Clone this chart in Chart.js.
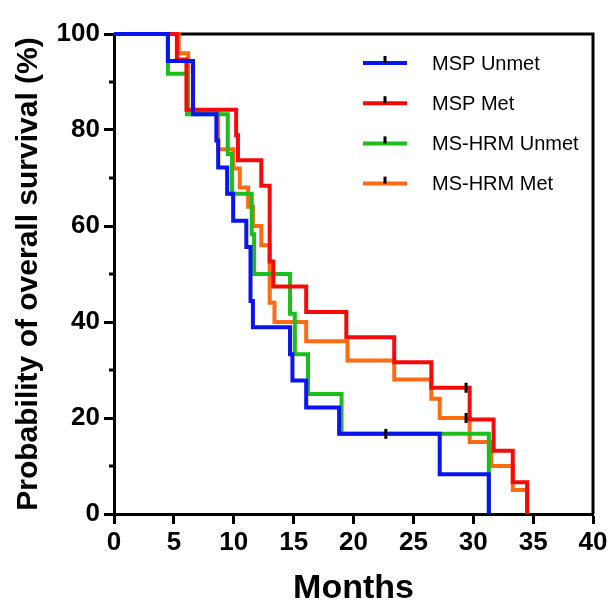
<!DOCTYPE html>
<html>
<head>
<meta charset="utf-8">
<title>Overall survival</title>
<script src="https://cdn.jsdelivr.net/npm/chart.js@4/dist/chart.umd.min.js"></script>
<style>
  body { margin: 0; background: #fff; }
  #km-chart { display: block; }
</style>
</head>
<body>
<canvas id="km-chart" width="614" height="611"></canvas>
<script>
// Survival curves (months, % surviving after each step)
const mspUnmetTimes = [0, 4.5, 6.6, 8.55, 8.7, 9.45, 9.95, 11.05, 11.4, 11.6, 14.7, 14.9, 16.05, 18.8, 27.2, 31.3];
const mspUnmetSurv  = [100, 94.4, 83.3, 77.8, 72.2, 66.7, 61.1, 55.6, 44.4, 38.9, 33.3, 27.8, 22.2, 16.7, 8.3, 0];

const mspMetTimes = [0, 5.25, 6.05, 10.2, 10.35, 12.3, 13.0, 13.3, 16.05, 19.4, 23.4, 26.5, 29.7, 31.7, 33.3, 34.5];
const mspMetSurv  = [100, 94.7, 84.2, 78.9, 73.7, 68.4, 52.6, 47.4, 42.1, 36.8, 31.6, 26.3, 19.7, 13.2, 6.6, 0];

const hrmUnmetTimes = [0, 4.5, 6.1, 9.5, 9.85, 11.5, 11.7, 14.7, 15.1, 16.2, 19.0, 31.3];
const hrmUnmetSurv  = [100, 91.7, 83.3, 75, 66.7, 58.3, 50, 41.7, 33.3, 25, 16.7, 0];

const hrmMetTimes = [0, 5.4, 6.2, 8.7, 9.95, 10.5, 11.2, 11.6, 12.3, 13.0, 13.4, 16.05, 19.5, 23.4, 26.5, 27.2, 29.7, 31.5, 33.3, 34.5];
const hrmMetSurv  = [100, 96, 84, 76, 72, 68, 64, 60, 56, 44, 40, 36, 32, 28, 24, 20, 15, 10, 5, 0];

// Censored observations
const censorTimes = [22.7, 29.4, 29.4];
const censorSurv  = [16.7, 26.3, 20];

const seriesLabels = ['MSP Unmet', 'MSP Met', 'MS-HRM Unmet', 'MS-HRM Met'];
const seriesColors = ['#0a14f0', '#f50a0a', '#1cbe1c', '#ff6a12'];

const xTicks = [0, 5, 10, 15, 20, 25, 30, 35, 40];
const yTicks = [0, 20, 40, 60, 80, 100];
const yMinorTicks = [10, 30, 50, 70, 90];

const FONT = "'Liberation Sans', Arial, Helvetica, sans-serif";

/**
 * Zip two arrays into {x, y} points
 */
function toPoints(xs, ys) {
  return xs.map((x, i) => ({ x: x, y: ys[i] }));
}

/**
 * Build one step-line dataset
 */
function stepDataset(idx, xs, ys) {
  return {
    label: seriesLabels[idx],
    data: toPoints(xs, ys),
    borderColor: seriesColors[idx],
    backgroundColor: seriesColors[idx],
    borderWidth: 4,
    stepped: 'before',
    pointRadius: 0,
    fill: false,
    clip: false
  };
}

/**
 * Top and right frame lines, drawn under the curves
 */
const framePlugin = {
  id: 'frame',
  beforeDatasetsDraw(chart) {
    const { ctx, chartArea } = chart;
    ctx.save();
    ctx.strokeStyle = '#000';
    ctx.lineWidth = 3;
    ctx.beginPath();
    ctx.moveTo(chartArea.left, chartArea.top);
    ctx.lineTo(chartArea.right, chartArea.top);
    ctx.lineTo(chartArea.right, chartArea.bottom);
    ctx.stroke();

    // minor ticks on the y axis
    const y = chart.scales.y;
    yMinorTicks.forEach(v => {
      const py = y.getPixelForValue(v);
      ctx.beginPath();
      ctx.moveTo(chartArea.left - 5, py);
      ctx.lineTo(chartArea.left, py);
      ctx.stroke();
    });
    ctx.restore();
  }
};

/**
 * Legend drawn inside the plot area (line sample with a censor tick)
 */
const kmLegendPlugin = {
  id: 'kmLegend',
  afterDraw(chart) {
    const { ctx, chartArea } = chart;
    const x0 = chartArea.left + 249;
    const y0 = chartArea.top + 29;
    const rowGap = 40.2;
    ctx.save();
    ctx.font = '20px ' + FONT;
    ctx.textBaseline = 'middle';
    ctx.textAlign = 'left';
    let row = 0;
    chart.data.datasets.forEach(ds => {
      if (ds.isCensor) return;
      const yy = y0 + row * rowGap;
      row++;
      ctx.strokeStyle = ds.borderColor;
      ctx.lineWidth = 4;
      ctx.beginPath();
      ctx.moveTo(x0, yy);
      ctx.lineTo(x0 + 44, yy);
      ctx.stroke();
      ctx.strokeStyle = '#000';
      ctx.lineWidth = 3;
      ctx.beginPath();
      ctx.moveTo(x0 + 22, yy - 7);
      ctx.lineTo(x0 + 22, yy);
      ctx.stroke();
      ctx.fillStyle = '#000';
      ctx.fillText(ds.label, x0 + 69, yy + 1);
    });
    ctx.restore();
  }
};

const datasets = [
  {
    label: 'Censored',
    isCensor: true,
    type: 'scatter',
    data: toPoints(censorTimes, censorSurv),
    pointStyle: 'line',
    rotation: 90,
    pointRadius: 5,
    borderWidth: 3,
    borderColor: '#000',
    backgroundColor: '#000',
    order: -1,
    clip: false
  },
  stepDataset(0, mspUnmetTimes, mspUnmetSurv),
  stepDataset(1, mspMetTimes, mspMetSurv),
  stepDataset(2, hrmUnmetTimes, hrmUnmetSurv),
  stepDataset(3, hrmMetTimes, hrmMetSurv)
];

new Chart(document.getElementById('km-chart'), {
  type: 'line',
  data: { datasets: datasets },
  options: {
    responsive: false,
    animation: false,
    events: [],
    layout: { padding: { left: 0, right: 21, top: 34, bottom: 0 } },
    plugins: {
      legend: { display: false },
      tooltip: { enabled: false }
    },
    scales: {
      x: {
        type: 'linear',
        min: 0,
        max: 40,
        afterFit: scale => { scale.height = 97; },
        afterBuildTicks: scale => { scale.ticks = xTicks.map(v => ({ value: v })); },
        border: { display: true, color: '#000', width: 3 },
        grid: { drawOnChartArea: false, drawTicks: true, tickLength: 10, tickWidth: 3, tickColor: '#000' },
        ticks: {
          color: '#000',
          padding: 3,
          maxRotation: 0,
          font: { family: FONT, size: 26, weight: 'bold' }
        },
        title: {
          display: true,
          text: 'Months',
          color: '#000',
          padding: { top: 0, bottom: 2 },
          font: { family: FONT, size: 34, weight: 'bold' }
        }
      },
      y: {
        type: 'linear',
        min: 0,
        max: 100,
        afterFit: scale => { scale.width = 114; },
        afterBuildTicks: scale => { scale.ticks = yTicks.map(v => ({ value: v })); },
        border: { display: true, color: '#000', width: 3 },
        grid: { drawOnChartArea: false, drawTicks: true, tickLength: 10, tickWidth: 3, tickColor: '#000' },
        ticks: {
          color: '#000',
          padding: 4,
          font: { family: FONT, size: 26, weight: 'bold' }
        },
        title: {
          display: true,
          text: 'Probability of overall survival (%)',
          color: '#000',
          padding: { top: 11, bottom: 0 },
          font: { family: FONT, size: 30, weight: 'bold' }
        }
      }
    }
  },
  plugins: [framePlugin, kmLegendPlugin]
});
</script>
</body>
</html>
